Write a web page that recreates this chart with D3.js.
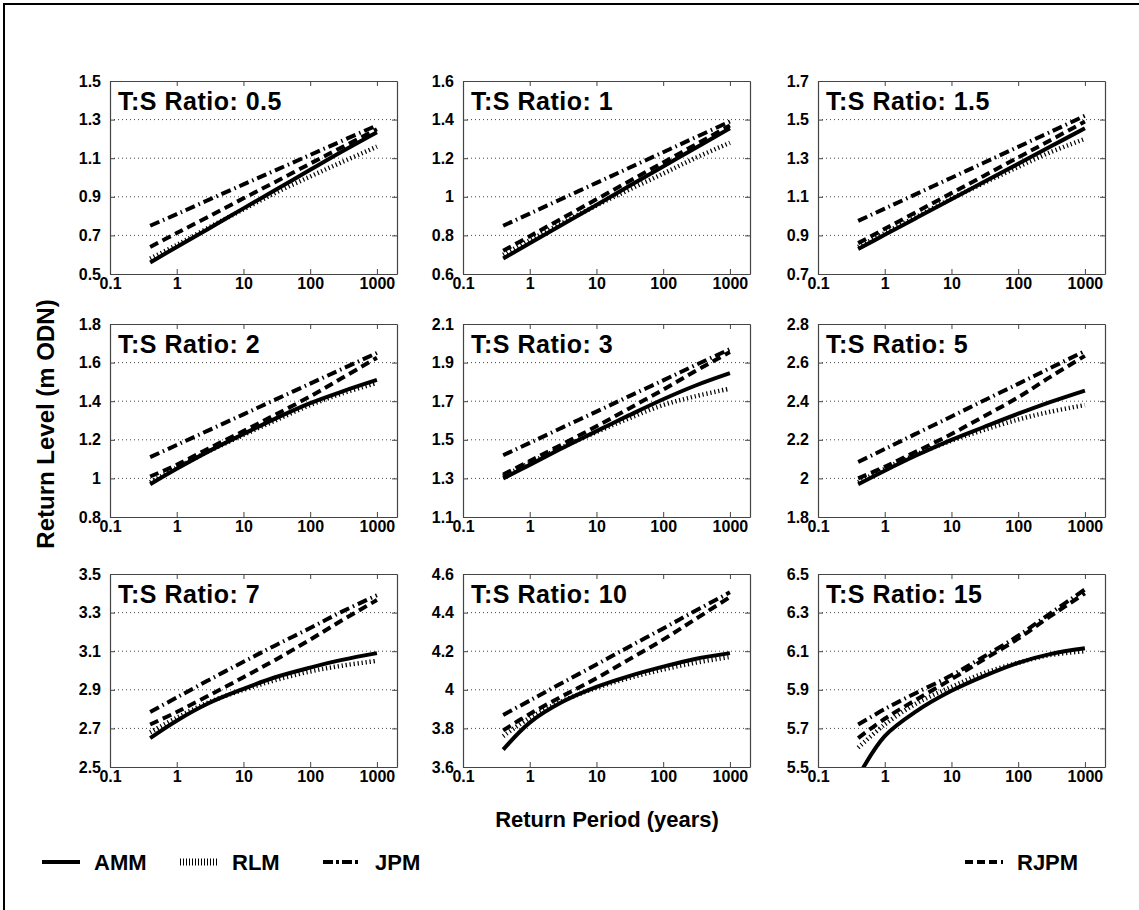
<!DOCTYPE html>
<html>
<head>
<meta charset="utf-8">
<script src="https://cdn.jsdelivr.net/npm/d3@7/dist/d3.min.js"></script>
<style>
  html, body { margin: 0; padding: 0; background: #fff; }
  svg { display: block; }
  text { font-family: "Liberation Sans", Arial, Helvetica, sans-serif; }
</style>
</head>
<body>
<script>
// ---------------- DATA ----------------
const periods = [0.4, 1, 3, 10, 30, 100, 300, 1000];
const ratios = ["0.5", "1", "1.5", "2", "3", "5", "7", "10", "15"];

const ammValues = [
  [0.56, 0.64, 0.735, 0.84, 0.935, 1.04, 1.135, 1.235],
  [0.68, 0.759, 0.854, 0.958, 1.053, 1.157, 1.252, 1.355],
  [0.83, 0.903, 0.991, 1.087, 1.175, 1.271, 1.359, 1.455],
  [0.97, 1.05, 1.14, 1.23, 1.31, 1.39, 1.45, 1.51],
  [1.30, 1.37, 1.455, 1.545, 1.625, 1.71, 1.78, 1.845],
  [1.97, 2.04, 2.12, 2.20, 2.265, 2.335, 2.395, 2.455],
  [2.65, 2.74, 2.83, 2.905, 2.965, 3.015, 3.055, 3.09],
  [3.69, 3.83, 3.935, 4.015, 4.07, 4.12, 4.16, 4.19],
  [5.45, 5.66, 5.79, 5.895, 5.97, 6.04, 6.085, 6.115]
];
const rlmValues = [
  [0.58, 0.65, 0.74, 0.835, 0.92, 1.005, 1.08, 1.16],
  [0.70, 0.775, 0.862, 0.955, 1.035, 1.12, 1.20, 1.28],
  [0.84, 0.912, 0.997, 1.09, 1.17, 1.255, 1.33, 1.40],
  [0.98, 1.055, 1.14, 1.225, 1.30, 1.38, 1.44, 1.495],
  [1.31, 1.38, 1.46, 1.54, 1.61, 1.68, 1.725, 1.765],
  [1.98, 2.05, 2.125, 2.195, 2.25, 2.305, 2.345, 2.38],
  [2.68, 2.755, 2.835, 2.90, 2.95, 2.995, 3.025, 3.05],
  [3.76, 3.855, 3.94, 4.01, 4.06, 4.105, 4.14, 4.17],
  [5.60, 5.72, 5.83, 5.915, 5.985, 6.04, 6.08, 6.10]
];
const jpmValues = [
  [0.75, 0.81, 0.884, 0.964, 1.037, 1.117, 1.19, 1.27],
  [0.85, 0.913, 0.989, 1.072, 1.148, 1.231, 1.307, 1.39],
  [0.975, 1.039, 1.115, 1.199, 1.275, 1.359, 1.435, 1.52],
  [1.11, 1.173, 1.249, 1.332, 1.408, 1.491, 1.567, 1.65],
  [1.42, 1.484, 1.562, 1.646, 1.724, 1.808, 1.886, 1.97],
  [2.085, 2.152, 2.233, 2.321, 2.402, 2.49, 2.571, 2.66],
  [2.785, 2.86, 2.95, 3.045, 3.13, 3.22, 3.305, 3.39],
  [3.87, 3.944, 4.034, 4.131, 4.221, 4.318, 4.408, 4.505],
  [5.72, 5.80, 5.885, 5.975, 6.07, 6.18, 6.295, 6.42]
];
const rjpmValues = [
  [0.64, 0.712, 0.797, 0.892, 0.977, 1.072, 1.157, 1.25],
  [0.72, 0.796, 0.887, 0.987, 1.078, 1.178, 1.269, 1.37],
  [0.86, 0.934, 1.022, 1.119, 1.207, 1.304, 1.392, 1.49],
  [1.01, 1.07, 1.155, 1.245, 1.33, 1.425, 1.52, 1.625],
  [1.32, 1.39, 1.475, 1.57, 1.66, 1.76, 1.855, 1.955],
  [2.00, 2.06, 2.14, 2.23, 2.32, 2.42, 2.525, 2.635],
  [2.72, 2.785, 2.87, 2.965, 3.055, 3.16, 3.26, 3.365],
  [3.79, 3.875, 3.965, 4.06, 4.155, 4.26, 4.365, 4.48],
  [5.65, 5.75, 5.85, 5.955, 6.055, 6.165, 6.28, 6.40]
];

const yDomains = [
  [0.5, 1.5], [0.6, 1.6], [0.7, 1.7],
  [0.8, 1.8], [1.1, 2.1], [1.8, 2.8],
  [2.5, 3.5], [3.6, 4.6], [5.5, 6.5]
];
const yTickValues = [
  [0.5, 0.7, 0.9, 1.1, 1.3, 1.5],
  [0.6, 0.8, 1.0, 1.2, 1.4, 1.6],
  [0.7, 0.9, 1.1, 1.3, 1.5, 1.7],
  [0.8, 1.0, 1.2, 1.4, 1.6, 1.8],
  [1.1, 1.3, 1.5, 1.7, 1.9, 2.1],
  [1.8, 2.0, 2.2, 2.4, 2.6, 2.8],
  [2.5, 2.7, 2.9, 3.1, 3.3, 3.5],
  [3.6, 3.8, 4.0, 4.2, 4.4, 4.6],
  [5.5, 5.7, 5.9, 6.1, 6.3, 6.5]
];
const xTickValues = [0.1, 1, 10, 100, 1000];
const xDomain = [0.1, 2000];

const seriesNames = ["AMM", "RLM", "JPM", "RJPM"];
const seriesData = [ammValues, rlmValues, jpmValues, rjpmValues];

// ---------------- STYLE / LAYOUT ----------------
const W = 1139, H = 910;
const panelLefts = [110, 463, 818];
const panelTops = [81, 324, 574];
const panelW = 287, panelH = 193;

const lineStyles = {
  AMM:  { width: 4,   dash: null },
  RLM:  { width: 4.5, dash: "1.2,2.8" },
  JPM:  { width: 4,   dash: "10,4,1.5,4" },
  RJPM: { width: 4,   dash: "9,5" }
};

const svg = d3.select("body").append("svg")
  .attr("width", W).attr("height", H);

svg.append("rect").attr("width", W).attr("height", H).attr("fill", "#fff");
// outer frame (left & top edges visible)
svg.append("rect")
  .attr("x", 4).attr("y", 4)
  .attr("width", W + 20).attr("height", H + 20)
  .attr("fill", "none").attr("stroke", "#000").attr("stroke-width", 2);

const fmt = v => String(+v.toFixed(1));

ratios.forEach((ratio, i) => {
  const col = i % 3, row = Math.floor(i / 3);
  const left = panelLefts[col], top = panelTops[row];

  const x = d3.scaleLog().domain(xDomain).range([left, left + panelW]);
  const y = d3.scaleLinear().domain(yDomains[i]).range([top + panelH, top]);

  const g = svg.append("g");

  const clipId = "clip" + i;
  svg.append("clipPath").attr("id", clipId)
    .append("rect").attr("x", left).attr("y", top)
    .attr("width", panelW).attr("height", panelH);

  // horizontal dotted grid
  const yt = yTickValues[i];
  g.selectAll("line.grid").data(yt.slice(1, -1)).join("line")
    .attr("class", "grid")
    .attr("x1", left).attr("x2", left + panelW)
    .attr("y1", d => y(d)).attr("y2", d => y(d))
    .attr("stroke", "#444").attr("stroke-width", 1)
    .attr("stroke-dasharray", "1,3");

  const axStyle = sel => {
    sel.select(".domain").attr("stroke", "#444").attr("stroke-width", 1.2);
    sel.selectAll(".tick line").attr("stroke", "#444");
    sel.selectAll("text")
      .attr("font-family", "'Liberation Sans', Arial, sans-serif")
      .attr("font-size", 16).attr("font-weight", "bold").attr("fill", "#000");
  };
  g.append("g").attr("transform", `translate(0,${top + panelH})`)
    .call(d3.axisBottom(x).tickValues(xTickValues).tickFormat(d => String(d))
      .tickSizeInner(-5).tickSizeOuter(0).tickPadding(4))
    .call(axStyle);
  g.append("g").attr("transform", `translate(0,${top})`)
    .call(d3.axisTop(x).tickValues(xTickValues).tickFormat("")
      .tickSizeInner(-5).tickSizeOuter(0))
    .call(axStyle);
  g.append("g").attr("transform", `translate(${left},0)`)
    .call(d3.axisLeft(y).tickValues(yt).tickFormat(fmt)
      .tickSizeInner(-5).tickSizeOuter(0).tickPadding(9))
    .call(axStyle);
  g.append("g").attr("transform", `translate(${left + panelW},0)`)
    .call(d3.axisRight(y).tickValues(yt).tickFormat("")
      .tickSizeInner(-5).tickSizeOuter(0))
    .call(axStyle);

  const line = d3.line()
    .x(d => x(d.p)).y(d => y(d.v))
    .curve(d3.curveCatmullRom.alpha(0.5));

  const lines = g.append("g").attr("clip-path", `url(#${clipId})`);
  seriesNames.forEach((name, s) => {
    const vals = seriesData[s][i];
    const pts = periods.map((p, k) => ({ p, v: vals[k] }));
    const st = lineStyles[name];
    lines.append("path")
      .datum(pts)
      .attr("d", line)
      .attr("fill", "none")
      .attr("stroke", "#000")
      .attr("stroke-width", st.width)
      .attr("stroke-dasharray", st.dash)
      .attr("stroke-linecap", "butt");
  });

  g.append("text")
    .attr("x", left + 8).attr("y", top + 29)
    .attr("font-size", 25).attr("font-weight", "bold")
    .attr("letter-spacing", 0.5)
    .text("T:S Ratio: " + ratio);
});

// axis labels
svg.append("text")
  .attr("transform", `translate(54,424) rotate(-90)`)
  .attr("text-anchor", "middle")
  .attr("font-size", 24).attr("font-weight", "bold")
  .text("Return Level (m ODN)");

svg.append("text")
  .attr("x", 607).attr("y", 827)
  .attr("text-anchor", "middle")
  .attr("font-size", 22).attr("font-weight", "bold")
  .text("Return Period (years)");

// legend
const legendX = [42, 180, 323, 965];
const legendY = 862;
seriesNames.forEach((name, s) => {
  const lx = legendX[s];
  const st = lineStyles[name];
  svg.append("line")
    .attr("x1", lx).attr("x2", lx + 38)
    .attr("y1", legendY).attr("y2", legendY)
    .attr("stroke", "#000")
    .attr("stroke-width", name === "RLM" ? 7 : st.width)
    .attr("stroke-dasharray", name === "RLM" ? "1,2" : (name === "JPM" ? "10,3,3,3" : (name === "RJPM" ? "8,4" : null)));
  svg.append("text")
    .attr("x", lx + 52).attr("y", legendY + 8)
    .attr("font-size", 22).attr("font-weight", "bold")
    .text(name);
});
</script>
</body>
</html>
